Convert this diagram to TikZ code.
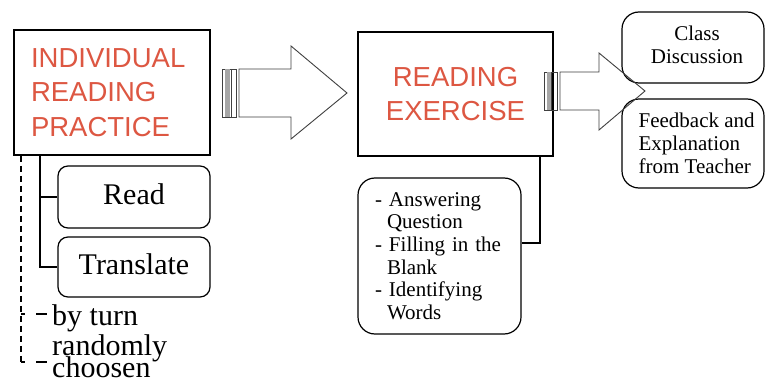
\documentclass[tikz,border=0pt]{standalone}
\usepackage{fontspec}
\setmainfont{Liberation Serif}
\newfontfamily\headfont{Liberation Sans}
\definecolor{headred}{RGB}{221,87,66}
\begin{document}
\begin{tikzpicture}[x=1pt,y=-1pt,
  mainbox/.style={draw=black, line width=1.8pt, inner sep=0pt,
    font=\headfont\fontsize{27.5}{34.5}\selectfont, text=headred},
  subbox/.style={draw=black, line width=1.2pt, rounded corners=10pt, inner sep=0pt},
  roundbox/.style={subbox, rounded corners=17pt},
  bigtext/.style={font=\fontsize{30}{36}\selectfont},
  sidetext/.style={font=\fontsize{30}{30}\selectfont, inner sep=0pt, anchor=base west},
  smalltext/.style={font=\fontsize{21}{23}\selectfont, inner sep=0pt},
  wire/.style={line width=1.5pt},
  dashwire/.style={line width=1.9pt, dash pattern=on 6pt off 4pt},
  stubwire/.style={line width=1.9pt, dash pattern=on 4pt off 11pt on 10pt off 0pt},
  arrowbody/.style={draw=black!75, line width=0.9pt},
  stripe/.style={draw=black!75, line width=0.7pt},
  stripefill/.style={fill=black!35}
]
\fill[white] (0,0) rectangle (766,385);
\useasboundingbox (0,0) rectangle (766,385);

% main stages
\node[mainbox, minimum width=196pt, minimum height=125pt, text width=162pt, align=left]
  (b1) at (112,92.5) {INDIVIDUAL\\READING\\PRACTICE};
\node[mainbox, minimum width=195pt, minimum height=124pt, align=center]
  (b2) at (455.5,94) {READING\\EXERCISE};

% sub-steps of the first stage
\node[subbox, bigtext, minimum width=152pt, minimum height=62pt, text height=20.5pt, text depth=6pt]
  (read) at (134,197) {Read};
\node[subbox, bigtext, minimum width=152pt, minimum height=60pt, text height=20.5pt, text depth=6pt]
  (translate) at (134,267) {Translate};

% exercise types
\node[roundbox, font=\fontsize{21}{22.6}\selectfont, minimum width=163pt, minimum height=156pt,
  text width=129pt, align=left] (ans) at (439.5,256)
  {- Answering\\\hspace*{12pt}Question\\- Filling in the\\\hspace*{12pt}Blank\\- Identifying\\\hspace*{12pt}Words};

% follow-up stages
\node[roundbox, minimum width=142pt, minimum height=71pt] (cls) at (693,47.5) {};
\node[smalltext, align=center] (clst) at (697,44.4) {Class\\Discussion};
\node[roundbox, minimum width=142pt, minimum height=89pt] (fb) at (693,143.5) {};
\node[smalltext, align=left, anchor=west] (fbt) at ([xshift=17pt]fb.west) {Feedback and\\Explanation\\from Teacher};

% turn-taking labels
\node[sidetext] (byturn) at (52,325) {by turn};
\node[sidetext] (randomly) at (52,355) {randomly};
\node[sidetext] (choosen) at (52,377) {choosen};

% tree connectors under the first stage
\coordinate (stem) at ([xshift=27pt]b1.south west);
\draw[wire] (stem) |- (translate.west);
\draw[wire] (stem |- read.west) -- (read.west);

\coordinate (dstem) at ([xshift=8pt]b1.south west);
\coordinate (bt) at (47,314);
\coordinate (rc) at (47,362);
\draw[dashwire] (dstem) -- (dstem |- rc);
\draw[stubwire] (dstem |- bt) -- (bt);
\draw[stubwire] (dstem |- rc) -- (rc);

% connector to the exercise list
\coordinate (rstem) at ([xshift=-14pt]b2.south east);
\draw[wire] (rstem) |- ([yshift=13pt]ans.east);

% striped block arrow between the two stages
\draw[stripe] (222,69) rectangle (236,117);
\fill[stripefill] (224.5,69) rectangle (229.5,117);
\draw[stripe] (231.5,69) -- (231.5,117);
\draw[arrowbody] (239,69) -- (291,69) -- (291,46) -- (347,93) -- (291,139) -- (291,117) -- (239,117) -- cycle;

% striped block arrow towards the follow-up stages
\draw[stripe] (544,72) rectangle (557,110);
\fill[stripefill] (546.5,72) rectangle (550.5,110);
\draw[stripe] (551.5,72) -- (551.5,110);
\draw[arrowbody] (560,72) -- (599,72) -- (599,53) -- (645,91) -- (599,130) -- (599,110) -- (560,110) -- cycle;
\end{tikzpicture}
\end{document}
